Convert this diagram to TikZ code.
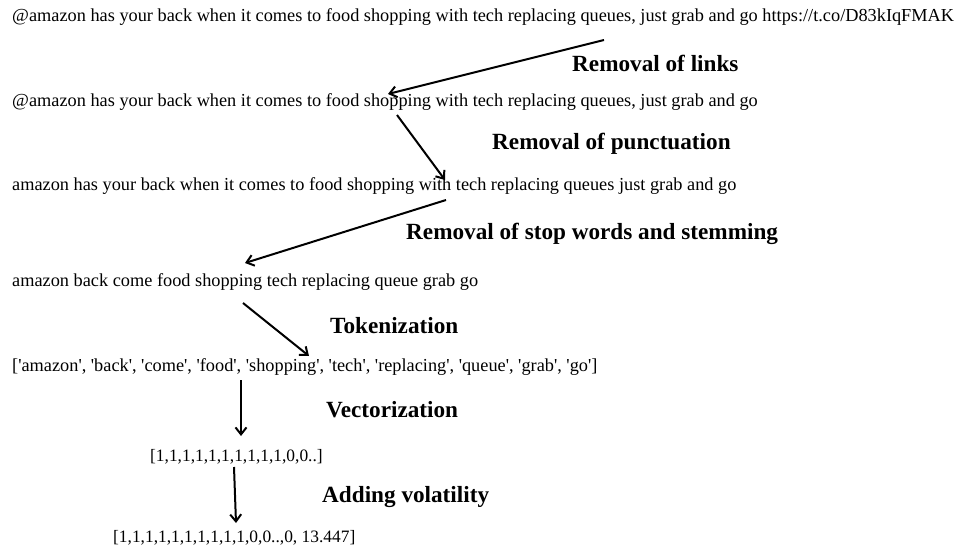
\documentclass[tikz,border=0pt]{standalone}
\usepackage{fontspec}
\setmainfont{Liberation Serif}
\usetikzlibrary{calc,arrows.meta}

\newcommand{\tk}[1]{\textquotesingle#1\textquotesingle}

\begin{document}
\begin{tikzpicture}[x=1pt,y=-1pt,
  line/.style={anchor=base west, inner sep=0, font=\fontsize{18.3}{20}\selectfont},
  vect/.style={anchor=base west, inner sep=0, font=\fontsize{17.4}{20}\selectfont},
  stage/.style={anchor=base west, inner sep=0, font=\fontsize{23.2}{26}\selectfont\bfseries},
  arr/.style={-{Straight Barb[length=7pt,width=11pt]}, line width=2pt}]
\useasboundingbox (0,0) rectangle (959,548);

%text lines
\node[line] (raw) at (12,22) {@amazon has your back when it comes to food shopping with tech replacing queues, just grab and go https://t.co/D83kIqFMAK};
\node[line] (nolink) at (12,107) {@amazon has your back when it comes to food shopping with tech replacing queues, just grab and go};
\node[line] (nopunct) at (12,191) {amazon has your back when it comes to food shopping with tech replacing queues just grab and go};
\node[line] (stem) at (12,287) {amazon back come food shopping tech replacing queue grab go};
\node[line] (tokens) at (12,371) {[\tk{amazon}, \tk{back}, \tk{come}, \tk{food}, \tk{shopping}, \tk{tech}, \tk{replacing}, \tk{queue}, \tk{grab}, \tk{go}]};
\node[vect] (vec) at (150,461) {[1,1,1,1,1,1,1,1,1,1,0,0..]};
\node[vect] (vecvol) at (113,542) {[1,1,1,1,1,1,1,1,1,1,0,0..,0, 13.447]};

%stages
\node[stage] (links) at (572,72) {Removal of links};
\node[stage] (punct) at (492,150) {Removal of punctuation};
\node[stage] (stop) at (406,240) {Removal of stop words and stemming};
\node[stage] (token) at (330,333) {Tokenization};
\node[stage] (vectz) at (326,417) {Vectorization};
\node[stage] (vol) at (322,502) {Adding volatility};

%arrows
\coordinate (a1) at (604,40);  \coordinate (b1) at (388,94);
\coordinate (a2) at (397,115); \coordinate (b2) at (445,180);
\coordinate (a3) at (446,200); \coordinate (b3) at (245,263);
\coordinate (a4) at (243,303); \coordinate (b4) at (309,356);
\coordinate (a5) at (241,380); \coordinate (b5) at (241,436);
\coordinate (a6) at (234,467); \coordinate (b6) at (236,523);
\foreach \i in {1,...,6}
  \draw[arr] (a\i) -- (b\i);

\end{tikzpicture}
\end{document}
